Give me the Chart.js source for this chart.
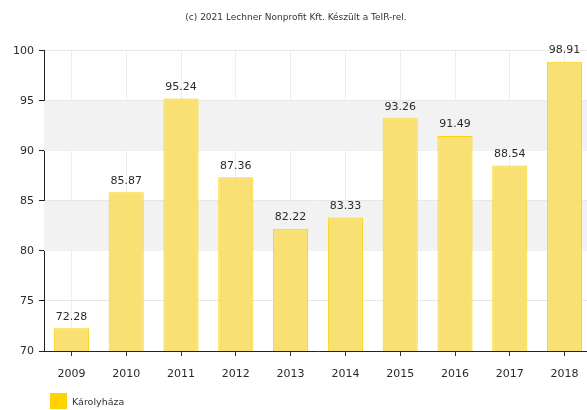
<!DOCTYPE html>
<html>
<head>
<meta charset="utf-8">
<script src="https://cdn.jsdelivr.net/npm/chart.js@4.4.1/dist/chart.umd.min.js"></script>
<style>
  html, body { margin: 0; padding: 0; background: #fff; overflow: hidden; }
  #wrap { width: 592px; height: 410px; position: relative; }
  #legend { position: absolute; left: 50px; top: 393px; display: flex; align-items: center;
            font: 9.5px 'DejaVu Sans', Verdana, sans-serif; color: #333; }
  #legend span.box { width: 17px; height: 16px; background: #ffd200; margin-right: 5px; display: inline-block; }
</style>
</head>
<body>
<div id="wrap">
  <canvas id="chart"></canvas>
  <div id="legend"><span class="box"></span><span id="legendText"></span></div>
</div>
<script>
const years = ['2009','2010','2011','2012','2013','2014','2015','2016','2017','2018'];
const values = [72.28, 85.87, 95.24, 87.36, 82.22, 83.33, 93.26, 91.49, 88.54, 98.91];
const seriesName = 'Károlyháza';
const titleText = '(c) 2021 Lechner Nonprofit Kft. Készült a TeIR-rel.';
const yMin = 70, yMax = 100, yStep = 5;
const shadedBands = [[80, 85], [90, 95]];

const font = "'DejaVu Sans', Verdana, sans-serif";
document.getElementById('legendText').textContent = seriesName;

// grey stripes behind the bars
const bandPlugin = {
  id: 'bands',
  beforeDatasetsDraw(chart) {
    const ctx = chart.ctx, area = chart.chartArea, y = chart.scales.y;
    ctx.save();
    ctx.fillStyle = '#f2f2f2';
    shadedBands.forEach(b => {
      const top = y.getPixelForValue(b[1]);
      const bot = y.getPixelForValue(b[0]);
      ctx.fillRect(area.left, top, area.right - area.left, bot - top);
    });
    ctx.restore();
  }
};

// value labels above each bar
const valueLabels = {
  id: 'valueLabels',
  afterDatasetsDraw(chart) {
    const ctx = chart.ctx;
    ctx.save();
    ctx.font = '11px ' + font;
    ctx.fillStyle = '#2a2a2a';
    ctx.textAlign = 'center';
    ctx.textBaseline = 'bottom';
    chart.getDatasetMeta(0).data.forEach((bar, i) => {
      ctx.fillText(values[i].toFixed(2), bar.x, bar.y - 6);
    });
    ctx.restore();
  }
};

new Chart(document.getElementById('chart'), {
  type: 'bar',
  data: {
    labels: years,
    datasets: [{
      label: seriesName,
      data: values,
      backgroundColor: 'rgba(249,222,108,0.95)',
      borderColor: '#f9d310',
      borderWidth: 1,
      categoryPercentage: 1,
      barPercentage: 0.64
    }]
  },
  options: {
    responsive: true,
    maintainAspectRatio: false,
    animation: false,
    layout: { padding: { left: 0, right: 0, top: 0, bottom: 19 } },
    plugins: {
      title: {
        display: true,
        text: titleText,
        color: '#333',
        font: { family: font, size: 9, weight: 'normal' },
        padding: { top: 12, bottom: 28 }
      },
      legend: { display: false },
      tooltip: { enabled: false }
    },
    scales: {
      x: {
        grid: { offset: false, color: '#eeeeee', tickLength: 5, tickColor: '#333' },
        border: { color: '#222', width: 1 },
        ticks: { color: '#2a2a2a', font: { family: font, size: 11 }, padding: 12 },
        afterFit: s => { s.height = 40; }
      },
      y: {
        min: yMin,
        max: yMax,
        grid: { color: '#e6e6e6', tickLength: 5, tickColor: '#222' },
        border: { color: '#222', width: 1 },
        ticks: { stepSize: yStep, color: '#2a2a2a', font: { family: font, size: 11 }, padding: 5 },
        afterFit: s => { s.width = 44; }
      }
    }
  },
  plugins: [bandPlugin, valueLabels]
});
</script>
</body>
</html>
